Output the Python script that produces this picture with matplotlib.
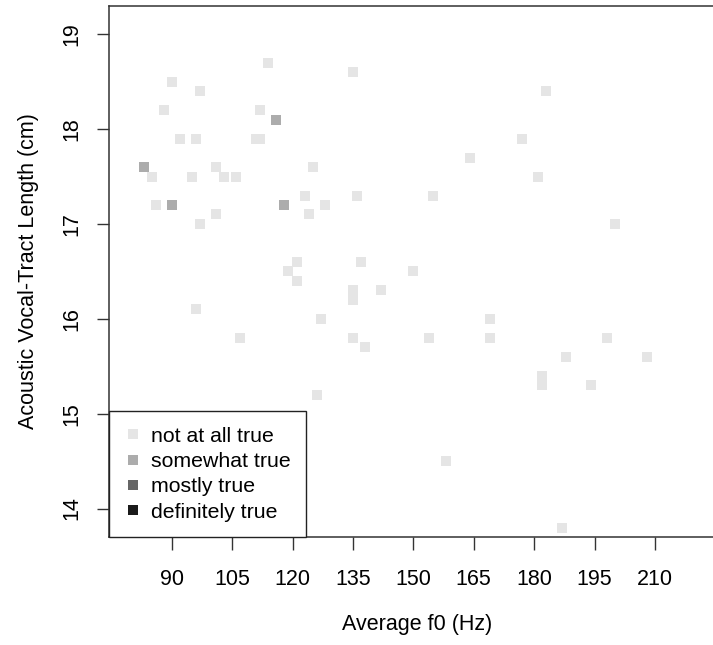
import matplotlib
matplotlib.use("Agg")
import matplotlib.pyplot as plt
from matplotlib.lines import Line2D

plt.rcParams['font.family'] = ['Liberation Sans', 'DejaVu Sans']

f0 = [114, 135, 90, 97, 88, 112, 116, 92, 96, 111, 112, 83, 85, 95, 101, 103, 106, 125,
      123, 136, 86, 90, 118, 128, 101, 124, 97, 121, 119, 121, 137, 135, 135, 142, 150,
      183, 177, 164, 181, 155, 200, 96, 127, 107, 135, 138, 126, 169, 154, 169, 198,
      188, 208, 182, 182, 194, 158, 187]
vtl = [18.7, 18.6, 18.5, 18.4, 18.2, 18.2, 18.1, 17.9, 17.9, 17.9, 17.9, 17.6, 17.5, 17.5,
       17.6, 17.5, 17.5, 17.6, 17.3, 17.3, 17.2, 17.2, 17.2, 17.2, 17.1, 17.1, 17.0, 16.6,
       16.5, 16.4, 16.6, 16.3, 16.2, 16.3, 16.5, 18.4, 17.9, 17.7, 17.5, 17.3, 17.0, 16.1,
       16.0, 15.8, 15.8, 15.7, 15.2, 16.0, 15.8, 15.8, 15.8, 15.6, 15.6, 15.4, 15.3, 15.3,
       14.5, 13.8]
rating = [0, 0, 0, 0, 0, 0, 1, 0, 0, 0, 0, 1, 0, 0, 0, 0, 0, 0, 0, 0, 0, 1, 1, 0, 0, 0, 0,
          0, 0, 0, 0, 0, 0, 0, 0, 0, 0, 0, 0, 0, 0, 0, 0, 0, 0, 0, 0, 0, 0, 0, 0, 0, 0, 0,
          0, 0, 0, 0]
levels = ["not at all true", "somewhat true", "mostly true", "definitely true"]
level_colors = ["#E5E5E5", "#ACACAC", "#666666", "#1A1A1A"]
xticks = [90, 105, 120, 135, 150, 165, 180, 195, 210]
yticks = [14, 15, 16, 17, 18, 19]

W, H = 713, 645
fig = plt.figure(figsize=(W / 100, H / 100), dpi=100)
left, right, top, bottom = 109, 725, 6, 537
ax = fig.add_axes([left / W, (H - bottom) / H, (right - left) / W, (bottom - top) / H])

cols = [level_colors[r] for r in rating]
ax.scatter(f0, vtl, c=cols, marker='s', s=52, linewidths=0, zorder=2)

ax.set_xlim(74.43, 90 + (right - 171.7) / 4.027)
ax.set_ylim(13.70, 19.298)
ax.set_xticks(xticks)
ax.set_yticks(yticks)
ax.set_xticklabels([str(v) for v in xticks])
ax.set_yticklabels([str(v) for v in yticks], rotation=90, va='center')
ax.tick_params(axis='both', length=9, width=1.0, labelsize=15.5, color='#333333')
ax.tick_params(axis='x', pad=14)
ax.tick_params(axis='y', pad=10)
for s in ['left', 'bottom', 'top']:
    ax.spines[s].set_linewidth(1.1)
    ax.spines[s].set_color('#333333')
ax.spines['right'].set_visible(False)

ax.set_xlabel("Average f0 (Hz)", fontsize=15.5, labelpad=17)
ax.set_ylabel("Acoustic Vocal-Tract Length (cm)", fontsize=15.5, labelpad=16)

handles = [Line2D([], [], marker='s', linestyle='none', markersize=6.5,
                  markerfacecolor=c, markeredgewidth=0) for c in level_colors]
leg = ax.legend(handles, levels, loc='lower left', bbox_to_anchor=(0, 0),
                borderaxespad=0, fancybox=False, framealpha=1, edgecolor='#222222',
                fontsize=15.3, handlelength=0.8, handletextpad=0.45, labelspacing=0.3,
                borderpad=0.72)
leg.get_frame().set_linewidth(1.0)

fig.savefig("out.png", dpi=100)
